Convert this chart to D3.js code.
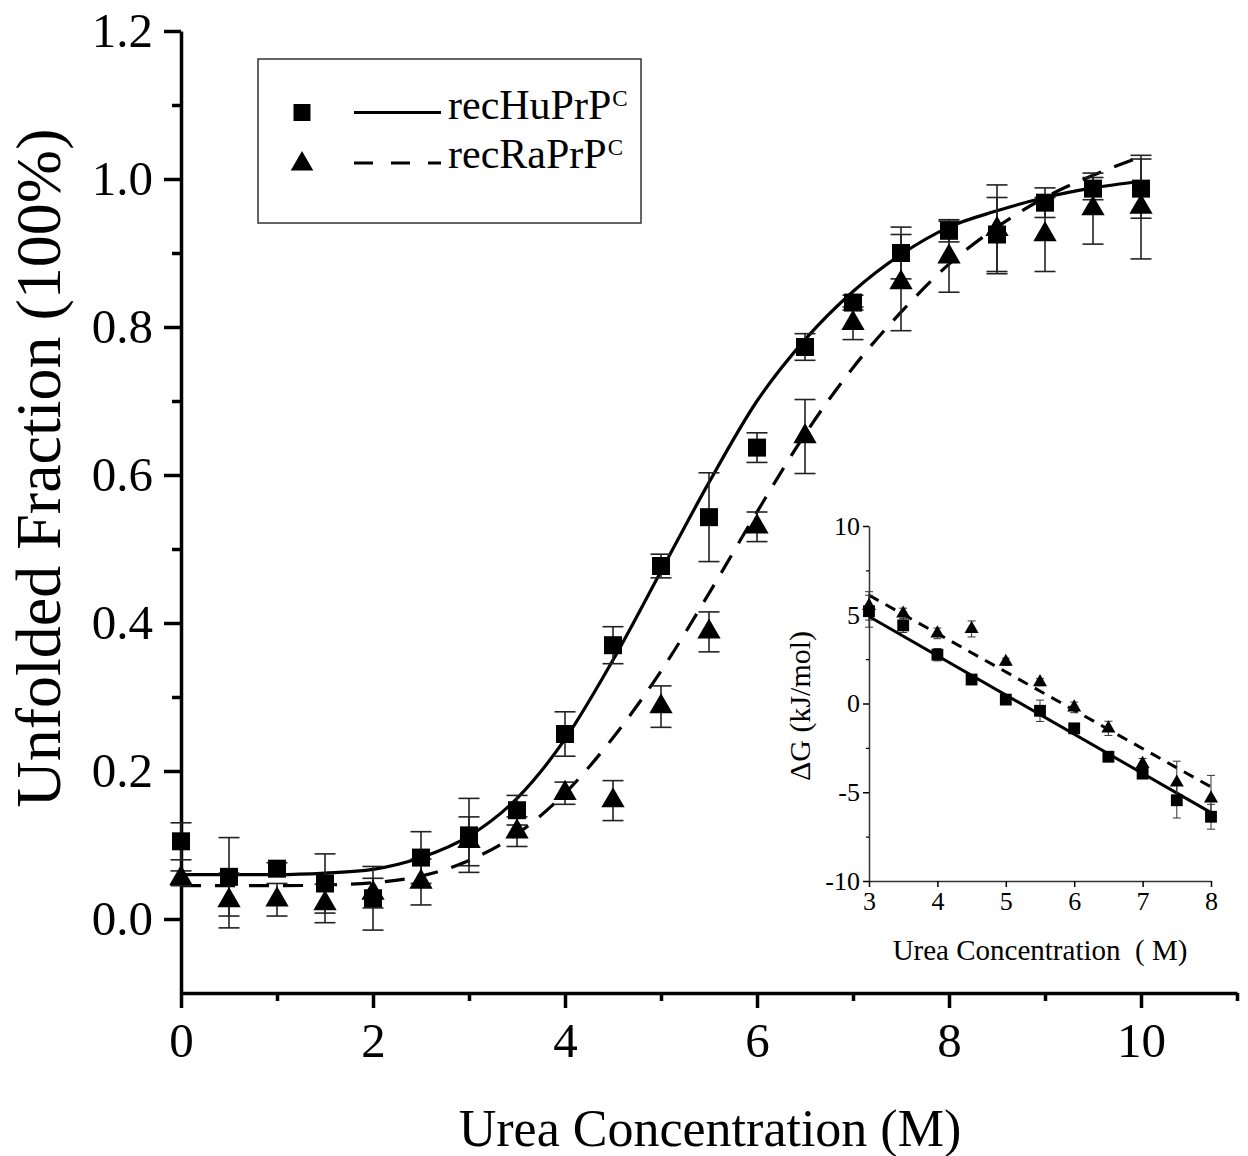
<!DOCTYPE html>
<html>
<head>
<meta charset="utf-8">
<script src="https://cdnjs.cloudflare.com/ajax/libs/d3/7.8.5/d3.min.js"></script>
<style>
  body { margin: 0; background: #fff; }
  svg { display: block; font-family: "Liberation Serif", "Times New Roman", serif; }
</style>
</head>
<body>
<svg id="chart" width="1248" height="1156"></svg>
<script>
// ---- main panel data ----
const urea   = [0, 0.5, 1, 1.5, 2, 2.5, 3, 3.5, 4, 4.5, 5, 5.5, 6, 6.5, 7, 7.5, 8, 8.5, 9, 9.5, 10];
const huFrac = [0.105, 0.057, 0.068, 0.048, 0.028, 0.083, 0.113, 0.147, 0.25, 0.37, 0.477, 0.543, 0.637, 0.773, 0.833, 0.9, 0.93, 0.925, 0.968, 0.987, 0.987];
const huErr  = [0.025, 0.053, 0.008, 0.04, 0.043, 0.035, 0.05, 0.02, 0.03, 0.025, 0.016, 0.06, 0.02, 0.018, 0.01, 0.035, 0.015, 0.05, 0.02, 0.015, 0.04];
const raFrac = [0.055, 0.025, 0.026, 0.021, 0.035, 0.05, 0.105, 0.118, 0.17, 0.16, 0.287, 0.388, 0.53, 0.652, 0.805, 0.86, 0.895, 0.932, 0.925, 0.96, 0.962];
const raErr  = [0.01, 0.037, 0.022, 0.026, 0.02, 0.031, 0.033, 0.02, 0.015, 0.027, 0.028, 0.027, 0.02, 0.05, 0.022, 0.065, 0.048, 0.06, 0.05, 0.048, 0.07];

// fitted curves
const fitX  = [0, 0.5, 1, 1.5, 2, 2.5, 3, 3.5, 4, 4.5, 5, 5.5, 6, 6.5, 7, 7.5, 8, 8.5, 9, 9.5, 10];
const huFit = [0.06, 0.06, 0.06, 0.062, 0.067, 0.083, 0.112, 0.163, 0.243, 0.35, 0.47, 0.59, 0.70, 0.783, 0.848, 0.898, 0.935, 0.957, 0.975, 0.988, 0.997];
const raFit = [0.045, 0.045, 0.045, 0.046, 0.049, 0.058, 0.079, 0.115, 0.17, 0.245, 0.335, 0.44, 0.55, 0.655, 0.745, 0.82, 0.885, 0.935, 0.975, 1.005, 1.03];

const yMajor = [0, 0.2, 0.4, 0.6, 0.8, 1.0, 1.2];
const yMinor = [0.1, 0.3, 0.5, 0.7, 0.9, 1.1];
const xMajor = [0, 2, 4, 6, 8, 10];
const xMinor = [1, 3, 5, 7, 9, 11];

// ---- inset data (ΔG vs urea) ----
const insetUrea = [3, 3.5, 4, 4.5, 5, 5.5, 6, 6.5, 7, 7.5, 8];
const huDG    = [5.2, 4.4, 2.75, 1.35, 0.22, -0.41, -1.4, -3.0, -3.95, -5.45, -6.38];
const huDGErr = [0.9, 0.4, 0.35, 0.2, 0.2, 0.6, 0.2, 0.2, 0.2, 1.0, 0.7];
const raDG    = [5.5, 5.07, 3.95, 4.2, 2.35, 1.2, -0.22, -1.4, -3.4, -4.45, -5.35];
const raDGErr = [0.8, 0.3, 0.3, 0.45, 0.2, 0.2, 0.3, 0.4, 0.3, 1.2, 1.3];
const insetFitX = [3, 8];
const huDGFit = [4.9, -6.15];
const raDGFit = [6.1, -4.7];

const insetYMajor = [-10, -5, 0, 5, 10];
const insetYMinor = [-7.5, -2.5, 2.5, 7.5];
const insetXMajor = [3, 4, 5, 6, 7, 8];

const svg = d3.select("#chart");

// main scales
const x = d3.scaleLinear().domain([0, 11]).range([181, 1237]);
const y = d3.scaleLinear().domain([-0.1, 1.2]).range([993, 31]);

// inset scales
const ix = d3.scaleLinear().domain([3, 8]).range([869, 1211]);
const iy = d3.scaleLinear().domain([-10, 10]).range([881, 526]);

function styleAxis(g, width, fontSize) {
  g.select(".domain").attr("stroke", "#000").attr("stroke-width", width);
  g.selectAll(".tick line").attr("stroke", "#000").attr("stroke-width", width);
  g.selectAll(".tick text").attr("fill", "#000")
    .style("font-family", "'Liberation Serif', serif").style("font-size", fontSize + "px");
}
const plain = d => String(d);

// ---- main axes ----
const gx = svg.append("g").attr("transform", "translate(0," + y(-0.1) + ")")
  .call(d3.axisBottom(x).tickValues(xMajor).tickSize(15).tickPadding(14).tickSizeOuter(0).tickFormat(plain));
styleAxis(gx, 3.5, 49);
const gxm = svg.append("g").attr("transform", "translate(0," + y(-0.1) + ")")
  .call(d3.axisBottom(x).tickValues(xMinor).tickSize(8).tickSizeOuter(0).tickFormat(""));
styleAxis(gxm, 3.5, 49);
gxm.select(".domain").remove();

const gy = svg.append("g").attr("transform", "translate(" + x(0) + ",0)")
  .call(d3.axisLeft(y).tickValues(yMajor).tickSize(17).tickPadding(11).tickSizeOuter(0).tickFormat(d3.format(".1f")));
styleAxis(gy, 3.5, 49);
const gym = svg.append("g").attr("transform", "translate(" + x(0) + ",0)")
  .call(d3.axisLeft(y).tickValues(yMinor).tickSize(9).tickSizeOuter(0).tickFormat(""));
styleAxis(gym, 3.5, 49);
gym.select(".domain").remove();

// axis titles
svg.append("text")
  .attr("x", 710).attr("y", 1146)
  .attr("text-anchor", "middle")
  .style("font-size", "52px")
  .text("Urea Concentration (M)");

svg.append("text")
  .attr("transform", "translate(60,468) rotate(-90)")
  .attr("text-anchor", "middle")
  .style("font-size", "64px")
  .text("Unfolded Fraction (100%)");

// ---- main fits ----
const fitLine = d3.line().curve(d3.curveMonotoneX);
svg.append("path")
  .attr("d", fitLine(fitX.map((d, i) => [x(d), y(huFit[i])])))
  .attr("fill", "none").attr("stroke", "#000").attr("stroke-width", 3.2);
svg.append("path")
  .attr("d", fitLine(fitX.map((d, i) => [x(d), y(raFit[i])])))
  .attr("fill", "none").attr("stroke", "#000").attr("stroke-width", 3.2)
  .attr("stroke-dasharray", "20,14");

// ---- error bars ----
function errorBars(xs, ys, es, sx, sy, cap, width, color) {
  const g = svg.append("g").attr("stroke", color).attr("stroke-width", width);
  xs.forEach((d, i) => {
    const cx = sx(d), top = sy(ys[i] + es[i]), bot = sy(ys[i] - es[i]);
    g.append("line").attr("x1", cx).attr("x2", cx).attr("y1", top).attr("y2", bot);
    g.append("line").attr("x1", cx - cap / 2).attr("x2", cx + cap / 2).attr("y1", top).attr("y2", top);
    g.append("line").attr("x1", cx - cap / 2).attr("x2", cx + cap / 2).attr("y1", bot).attr("y2", bot);
  });
}
errorBars(urea, raFrac, raErr, x, y, 21, 1.6, "#222");
errorBars(urea, huFrac, huErr, x, y, 21, 1.6, "#222");

// ---- markers ----
const sq = d3.symbol().type(d3.symbolSquare);
const tri = d3.symbol().type(d3.symbolTriangle);

svg.append("g").selectAll("path").data(urea).join("path")
  .attr("transform", (d, i) => "translate(" + x(d) + "," + y(raFrac[i]) + ")")
  .attr("d", tri.size(235)()).attr("fill", "#000");
svg.append("g").selectAll("path").data(urea).join("path")
  .attr("transform", (d, i) => "translate(" + x(d) + "," + y(huFrac[i]) + ")")
  .attr("d", sq.size(324)()).attr("fill", "#000");

// ---- legend ----
const lg = svg.append("g");
lg.append("rect").attr("x", 258).attr("y", 59).attr("width", 383).attr("height", 164)
  .attr("fill", "none").attr("stroke", "#333").attr("stroke-width", 1.5);
lg.append("path").attr("transform", "translate(302,112.5)").attr("d", sq.size(289)()).attr("fill", "#000");
lg.append("path").attr("transform", "translate(302,164)").attr("d", tri.size(220)()).attr("fill", "#000");
lg.append("line").attr("x1", 354).attr("x2", 441).attr("y1", 112.5).attr("y2", 112.5)
  .attr("stroke", "#000").attr("stroke-width", 3.2);
lg.append("line").attr("x1", 354).attr("x2", 441).attr("y1", 163).attr("y2", 163)
  .attr("stroke", "#000").attr("stroke-width", 3.2).attr("stroke-dasharray", "19,18");
const legendNames = ["recHuPrP", "recRaPrP"];
legendNames.forEach((name, i) => {
  const t = lg.append("text").attr("x", 448).attr("y", 119 + i * 49).style("font-size", "42px");
  t.append("tspan").text(name);
  t.append("tspan").attr("dx", 1).attr("dy", -13).style("font-size", "23px").text("C");
});

// ---- inset axes ----
const igx = svg.append("g").attr("transform", "translate(0," + iy(-10) + ")")
  .call(d3.axisBottom(ix).tickValues(insetXMajor).tickSize(6).tickPadding(5).tickSizeOuter(0).tickFormat(plain));
styleAxis(igx, 1.5, 26);
igx.select(".domain").attr("stroke", "#333");
const igy = svg.append("g").attr("transform", "translate(" + ix(3) + ",0)")
  .call(d3.axisLeft(iy).tickValues(insetYMajor).tickSize(6).tickPadding(3).tickSizeOuter(0).tickFormat(plain));
styleAxis(igy, 1.5, 26);
igy.select(".domain").attr("stroke", "#333");
const igym = svg.append("g").attr("transform", "translate(" + ix(3) + ",0)")
  .call(d3.axisLeft(iy).tickValues(insetYMinor).tickSize(3).tickSizeOuter(0).tickFormat(""));
styleAxis(igym, 1.2, 26);
igym.select(".domain").remove();

svg.append("text")
  .attr("x", 1040).attr("y", 960)
  .attr("text-anchor", "middle")
  .style("font-size", "29px")
  .style("white-space", "pre")
  .text("Urea Concentration  ( M)");
svg.append("text")
  .attr("transform", "translate(810,706) rotate(-90)")
  .attr("text-anchor", "middle")
  .style("font-size", "30px")
  .text("ΔG (kJ/mol)");

// ---- inset fits ----
svg.append("path")
  .attr("d", d3.line()(insetFitX.map((d, i) => [ix(d), iy(huDGFit[i])])))
  .attr("fill", "none").attr("stroke", "#000").attr("stroke-width", 3);
svg.append("path")
  .attr("d", d3.line()(insetFitX.map((d, i) => [ix(d), iy(raDGFit[i])])))
  .attr("fill", "none").attr("stroke", "#000").attr("stroke-width", 3)
  .attr("stroke-dasharray", "11,8");

errorBars(insetUrea, raDG, raDGErr, ix, iy, 8, 1, "#333");
errorBars(insetUrea, huDG, huDGErr, ix, iy, 8, 1, "#333");

svg.append("g").selectAll("path").data(insetUrea).join("path")
  .attr("transform", (d, i) => "translate(" + ix(d) + "," + iy(raDG[i]) + ")")
  .attr("d", tri.size(85)()).attr("fill", "#000");
svg.append("g").selectAll("path").data(insetUrea).join("path")
  .attr("transform", (d, i) => "translate(" + ix(d) + "," + iy(huDG[i]) + ")")
  .attr("d", sq.size(140)()).attr("fill", "#000");
</script>
</body>
</html>
